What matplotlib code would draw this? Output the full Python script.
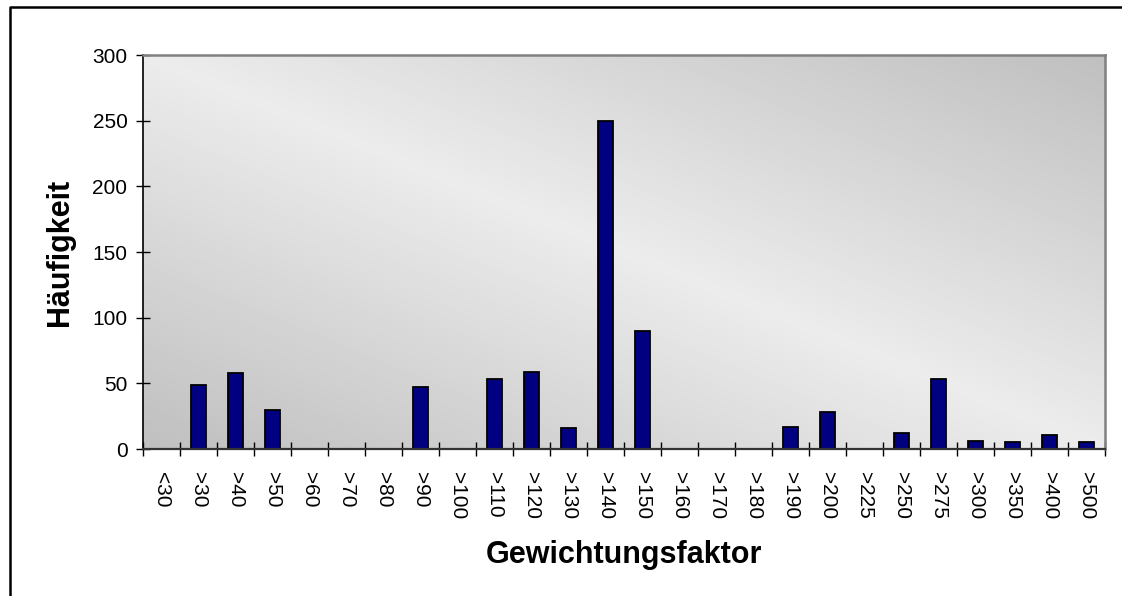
import numpy as np
import matplotlib
matplotlib.use("Agg")
import matplotlib.pyplot as plt
from matplotlib.lines import Line2D

plt.rcParams["font.family"] = ["Liberation Sans", "DejaVu Sans"]

categories = [
    "<30", ">30", ">40", ">50", ">60", ">70", ">80", ">90", ">100", ">110",
    ">120", ">130", ">140", ">150", ">160", ">170", ">180", ">190", ">200",
    ">225", ">250", ">275", ">300", ">350", ">400", ">500",
]
counts = [0, 49, 58, 30, 0, 0, 0, 47, 0, 53, 59, 16, 250, 90, 0, 0, 0, 17, 28,
          0, 12, 53, 6, 5, 11, 5]
y_ticks = [0, 50, 100, 150, 200, 250, 300]


def main():
    fig = plt.figure(figsize=(11.22, 5.96), dpi=100)
    ax = fig.add_axes([0.12745, 0.24664, 0.8574, 0.66107])

    n = len(categories)
    x = np.arange(n)

    # diagonal gradient background, light in the middle, darker at BL/TR corners
    gx, gy = np.meshgrid(np.linspace(0, 1, 300), np.linspace(0, 1, 300))
    s = (gx + gy) / 2
    f = 1 - np.abs(2 * s - 1)
    dark, light = 0.75, 0.925
    grad = dark + (light - dark) * f
    ax.imshow(grad, extent=[-0.5, n - 0.5, 0, 300], origin="lower",
              aspect="auto", cmap="gray", vmin=0, vmax=1,
              interpolation="bilinear", zorder=0)

    ax.bar(x, counts, width=0.42, color="#000080", edgecolor="black",
           linewidth=1.3, zorder=2)

    ax.set_xlim(-0.5, n - 0.5)
    ax.set_ylim(0, 300)

    ax.set_xticks(x)
    ax.set_xticklabels(categories, rotation=-90, fontsize=15)
    ax.tick_params(axis="x", which="major", length=0, pad=16.5)
    ax.set_xticks(np.arange(-0.5, n), minor=True)
    ax.tick_params(axis="x", which="minor", direction="inout", length=9.4,
                   width=1, color="black")

    ax.set_yticks(y_ticks)
    ax.tick_params(axis="y", direction="inout", length=9.4, width=1,
                   labelsize=15, pad=6.5)

    for side in ["top", "right"]:
        ax.spines[side].set_color("#808080")
        ax.spines[side].set_linewidth(1.8)
    ax.spines["left"].set_color("black")
    ax.spines["left"].set_linewidth(1.2)
    ax.spines["bottom"].set_color("#333333")
    ax.spines["bottom"].set_linewidth(1.6)

    ax.set_xlabel("Gewichtungsfaktor", fontsize=22, fontweight="bold",
                  va="center")
    ax.xaxis.set_label_coords(0.5, -0.2678)
    ax.set_ylabel("Häufigkeit", fontsize=22, fontweight="bold", va="center")
    ax.yaxis.set_label_coords(-0.0858, 0.5)

    # outer chart border (left and top edges visible)
    x0 = 10 / 1122
    y1 = 1 - 7 / 596
    fig.add_artist(Line2D([x0, x0, 1.01], [-0.01, y1, y1],
                          transform=fig.transFigure, color="black",
                          linewidth=1.8))

    fig.savefig("out.png", dpi=100)
    plt.close(fig)


if __name__ == "__main__":
    main()
